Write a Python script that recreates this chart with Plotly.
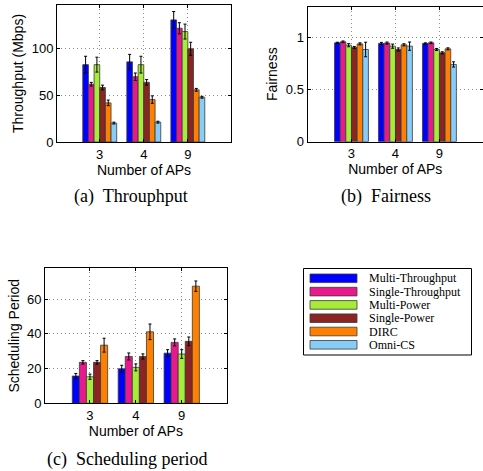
import plotly.graph_objects as go

W, H = 483, 471

groups = ["3", "4", "9"]
series = ["Multi-Throughput", "Single-Throughput", "Multi-Power", "Single-Power", "DIRC", "Omni-CS"]
colors = ["#0000FF", "#E8198C", "#A8EC3A", "#8B2424", "#FF7F00", "#87CDF8"]

thr = [[83, 86, 131], [62, 70, 122], [83, 83, 118.5], [58.5, 64, 100], [42, 45.5, 56], [20.3, 21.3, 48]]
thr_err = [[9, 8, 9], [2, 4, 6], [8, 9, 8], [2.5, 3, 7], [3, 4, 1.5], [1, 1, 1]]

fair = [[0.952, 0.946, 0.946], [0.962, 0.950, 0.952], [0.929, 0.920, 0.888], [0.907, 0.888, 0.856], [0.942, 0.933, 0.894], [0.888, 0.920, 0.744]]
fair_err = [[0.006, 0.01, 0.006], [0.008, 0.01, 0.008], [0.015, 0.02, 0.01], [0.01, 0.015, 0.01], [0.01, 0.01, 0.01], [0.07, 0.04, 0.025]]

sched = [[15.7, 19.9, 28.9], [23.6, 27, 35.1], [15.3, 20.7, 28.4], [23.6, 27, 35.7], [33.5, 41.2, 67.5]]
sched_err = [[1.5, 2, 2], [1, 2, 2], [1.5, 2, 2.5], [1, 1.5, 2.5], [4, 4.5, 3]]

captions = ["(a)  Throuphput", "(b)  Fairness", "(c)  Scheduling period"]

xpos = [1, 2, 3]


def px(x):
    return x / W


def py(y):
    return 1 - y / H


fig = go.Figure()

panels = [
    ("x", "y", thr, thr_err),
    ("x2", "y2", fair, fair_err),
    ("x3", "y3", sched, sched_err),
]
for xa, ya, vals, errs in panels:
    for i, (v, e) in enumerate(zip(vals, errs)):
        fig.add_trace(go.Bar(
            x=xpos, y=v, name=series[i], xaxis=xa, yaxis=ya,
            marker=dict(color=colors[i], line=dict(color="#3a3a3a", width=0.8)),
            error_y=dict(type="data", array=e, color="black", thickness=1, width=1.5),
            showlegend=False,
        ))

tickfont = dict(family="Liberation Sans, Arial", size=13, color="black")
titlefont = dict(family="Liberation Sans, Arial", size=14, color="black")

common_x = dict(
    tickvals=xpos, ticktext=groups, showgrid=True, gridcolor="#8c8c8c", griddash="1px,3px",
    gridwidth=1, showline=True, linecolor="black", linewidth=1, mirror="ticks",
    ticks="inside", ticklen=3, tickcolor="black", tickfont=tickfont, zeroline=False,
    automargin=False, title=dict(text="Number of APs", font=titlefont, standoff=0),
)
common_y = dict(
    showgrid=True, gridcolor="#8c8c8c", griddash="1px,3px", gridwidth=1, showline=True,
    linecolor="black", linewidth=1, mirror="ticks", ticks="inside", ticklen=3,
    tickcolor="black", tickfont=tickfont, zeroline=False, automargin=False,
)

fig.update_layout(
    width=W, height=H, margin=dict(l=0, r=0, t=0, b=0, autoexpand=False),
    paper_bgcolor="white", plot_bgcolor="white",
    barmode="group", bargap=0.23, bargroupgap=0,
    xaxis=dict(common_x, domain=[px(57), px(231)], range=[0.03, 3.98], anchor="y"),
    yaxis=dict(common_y, domain=[py(142), py(5)], range=[0, 147], tickvals=[0, 50, 100],
               anchor="x", title=dict(text="Throughput (Mbps)", font=titlefont, standoff=4)),
    xaxis2=dict(common_x, domain=[px(307.5), 1.0], range=[0, 3.99], anchor="y2"),
    yaxis2=dict(common_y, domain=[py(141.7), py(6.7)], range=[0, 1.3], tickvals=[0, 0.5, 1],
                ticktext=["0", "0.5", "1"], anchor="x2",
                title=dict(text="Fairness", font=titlefont, standoff=4)),
    xaxis3=dict(common_x, domain=[px(45), px(226.7)], range=[0.02, 3.98], anchor="y3"),
    yaxis3=dict(common_y, domain=[py(403.3), py(268.3)], range=[0, 77.8], tickvals=[0, 20, 40, 60],
                anchor="x3", title=dict(text="Scheduling Period", font=titlefont, standoff=4)),
)

capfont = dict(family="Liberation Serif, Times New Roman", size=18, color="black")
cap_pos = [(131, 196), (386, 196), (127, 459)]
for text, (cx, cy) in zip(captions, cap_pos):
    fig.add_annotation(text=text, x=px(cx), y=py(cy), xref="paper", yref="paper",
                       showarrow=False, font=capfont, xanchor="center", yanchor="middle")

# Legend box (manual, to reproduce wide swatches)
fig.add_shape(type="rect", xref="paper", yref="paper", x0=px(303.5), x1=px(471.5),
              y0=py(355), y1=py(268.5), line=dict(color="black", width=1), fillcolor="white")
legfont = dict(family="Liberation Serif, Times New Roman", size=12, color="black")
for i, (name, col) in enumerate(zip(series, colors)):
    yc = 278.3 + i * 13.3
    fig.add_shape(type="rect", xref="paper", yref="paper", x0=px(310), x1=px(357),
                  y0=py(yc + 4.3), y1=py(yc - 4.3), line=dict(color="#3a3a3a", width=0.8),
                  fillcolor=col)
    fig.add_annotation(text=name, x=px(367), y=py(yc), xref="paper", yref="paper",
                       showarrow=False, font=legfont, xanchor="left", yanchor="middle")

fig.write_html(
    "out.html",
    config={"displayModeBar": False},
    post_script="document.body.style.margin='0';document.body.style.padding='0';"
                "document.documentElement.style.overflow='hidden';",
)
